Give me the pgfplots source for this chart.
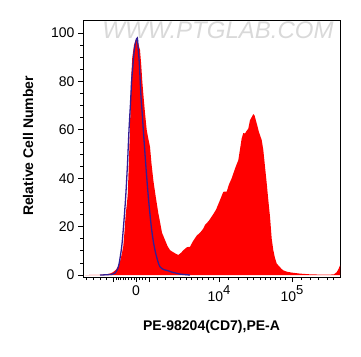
\documentclass[border=0pt]{standalone}
\usepackage{fontspec}
\setmainfont{Liberation Sans}
\usepackage{pgfplots}
\pgfplotsset{compat=1.18}
\definecolor{blueline}{RGB}{50,30,150}
\begin{document}
\begin{tikzpicture}[x=1pt,y=1pt]
\useasboundingbox (0,0) rectangle (361,356);
\node[font=\fontsize{24}{24}\selectfont\itshape, text=gray!30, anchor=center] at (218,326) {WWW.PTGLAB.COM};
\begin{axis}[
  at={(83pt,79pt)}, anchor=south west, scale only axis,
  width=257pt, height=257pt,
  xmin=83, xmax=340, ymin=-0.8, ymax=105.4,
  axis line style={line width=0.8pt},
  tick align=outside, xtick pos=bottom, ytick pos=left,
  ytick={0,20,...,100}, minor y tick num=3,
  xtick={113.3,136,149,219,292},
  xticklabels={,0,,10\raisebox{7pt}{\fontsize{13}{13}\selectfont 4},10\raisebox{7pt}{\fontsize{13}{13}\selectfont 5}},
  minor xtick={86,93,100.7,106.7,116,118.3,120.7,123.3,125.7,128.3,131,134,139,142,145,157,165,173,180,186,191.7,197,202.7,208.3,213.3,228,238,247,253,260,265,270,275,280,285,301.7,310,318,327,333},
  major tick length=5pt, minor tick length=3pt,
  every tick/.style={black, line width=0.8pt},
  ticklabel style={font=\fontsize{14}{16}\selectfont},
  /pgf/number format/assume math mode=true,
  xlabel={PE-98204(CD7),PE-A},
  ylabel={Relative Cell Number},
  label style={font=\bfseries\fontsize{14}{16}\selectfont},
  xlabel style={at={(axis description cs:0.5,-0.195)}, anchor=center},
  ylabel style={at={(axis description cs:-0.214,0.51)}, anchor=center},
]
\addplot[fill=red, draw=none] coordinates {
(85,0) (100,0.1) (106,0.3) (110,0.6) (113,1.2) (116,2.2) (118,3.5) (120,5.5) (121.7,8.5) (123.3,12) (124.5,18) (125.7,25) (127,30) (127.7,33) (128.5,42) (129.3,52) (130,60) (130.5,70) (131,80) (132.3,90) (134,95) (135.5,97) (136.7,97.8) (138,96) (140,93) (141.2,87) (142.3,80) (143.5,74) (145,67) (146.7,60) (148,57) (150,53) (151.5,46) (153.3,39.3) (155.5,33) (158.3,25.6) (160,22) (162,17.5) (165,14.5) (167.5,12) (170,10.3) (173,9.5) (175,9) (178.3,8.3) (181,9.2) (184,10.5) (187,11.5) (190,11.7) (193,14) (196.7,16.3) (200,17.5) (203,19) (205,20.7) (209,22.5) (213,25) (216,27) (220,31) (223.3,34.4) (226.7,34.5) (229,37.5) (231.7,40) (235,44) (238.3,47.5) (240,52) (241.7,56.5) (243.3,58.7) (245,58.5) (246.5,59.5) (248.3,60.5) (250,64) (252,65.5) (253.3,66.5) (254.5,66) (256.7,62.7) (259,59) (261.7,55.8) (263.3,51.7) (265,44.8) (266.7,38) (268.3,31) (270,24.1) (271.7,15) (273.3,10.3) (275,7) (276.7,4.8) (278.3,4) (281,2.8) (283,2) (286.7,1.4) (292,1) (300,0.6) (310,0.3) (320,0.2) (330,0.2) (334,0.3) (336.7,1.2) (338.5,2.5) (340,4)
} \closedcycle;
\addplot[blueline, line width=1.3pt, smooth] coordinates {
(100,0) (112,0.3) (115,0.8) (117,2) (119,4.5) (121.7,11.7) (123.5,20) (125.7,32.4) (127.5,46) (129,60) (130.5,71) (131.7,80.6) (133,87) (134.3,93) (135.8,96.5) (137.3,98) (138.3,93) (139.3,87.5) (141,73.7) (142.2,67) (143.3,60) (144.5,53) (145.7,46) (147,39) (148.3,32.4) (150,25) (151.7,18.6) (153.7,13) (155.7,9) (158,5.5) (160,3.4) (164,2.2) (168,1.8) (172,1.2) (176,0.8) (180,0.4) (185,0.2) (190,0)
};
\end{axis}
\end{tikzpicture}
\end{document}
